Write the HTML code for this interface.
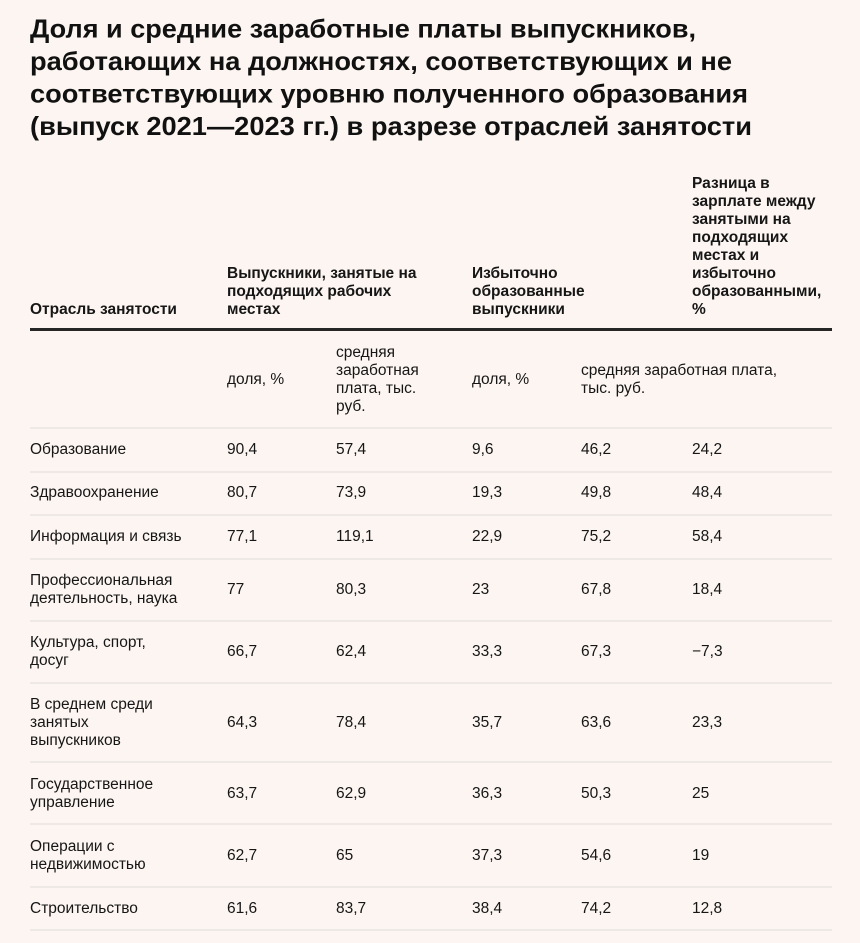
<!DOCTYPE html>
<html lang="ru">
<head>
<meta charset="utf-8">
<style>
  html, body { margin:0; padding:0; }
  body {
    width:860px; height:943px; background:#fcf5f1; position:relative; overflow:hidden;
    font-family:"Liberation Sans", Arial, "Noto Sans CJK SC", sans-serif; color:#161616;
  }
  .title { position:absolute; left:0; top:0; }
  .h { position:absolute; font-weight:bold; font-size:15.5px; line-height:18px; white-space:nowrap; color:#161616; }
  .s { position:absolute; font-size:15.5px; line-height:18px; white-space:nowrap; }
  .thick { position:absolute; left:30px; width:802px; top:328px; height:2.5px; background:#262626; }
  .thin { position:absolute; left:30px; width:802px; height:2px; background:#efe9e6; }
  .r { position:absolute; font-size:15.5px; line-height:18px; white-space:nowrap; transform:translateY(-50%); }
</style>
</head>
<body>

<svg class="title" width="860" height="160" xmlns="http://www.w3.org/2000/svg">
  <g font-family="Liberation Sans, Arial, sans-serif" font-weight="bold" font-size="26" fill="#111">
    <text x="30" y="37.5" textLength="666" lengthAdjust="spacingAndGlyphs">Доля и средние заработные платы выпускников,</text>
    <text x="30" y="70" textLength="702" lengthAdjust="spacingAndGlyphs">работающих на должностях, соответствующих и не</text>
    <text x="30" y="102.5" textLength="718" lengthAdjust="spacingAndGlyphs">соответствующих уровню полученного образования</text>
    <text x="30" y="135" textLength="722" lengthAdjust="spacingAndGlyphs">(выпуск 2021—2023 гг.) в разрезе отраслей занятости</text>
  </g>
</svg>

<!-- Header row -->
<div class="h" style="left:30px; top:301px;">Отрасль занятости</div>
<div class="h" style="left:227px; top:265px;">Выпускники, занятые на<br>подходящих рабочих<br>местах</div>
<div class="h" style="left:472px; top:265px;">Избыточно<br>образованные<br>выпускники</div>
<div class="h" style="left:692px; top:175px;">Разница в<br>зарплате между<br>занятыми на<br>подходящих<br>местах и<br>избыточно<br>образованными,<br>%</div>

<div class="thick"></div>

<!-- Sub header -->
<div class="s" style="left:227px; top:371px;">доля, %</div>
<div class="s" style="left:336px; top:344px;">средняя<br>заработная<br>плата, тыс.<br>руб.</div>
<div class="s" style="left:472px; top:371px;">доля, %</div>
<div class="s" style="left:581px; top:362px;">средняя заработная плата,<br>тыс. руб.</div>

<div class="thin" style="top:427px;"></div>

<!-- Row 1 -->
<div class="r" style="left:30px; top:449.7px;">Образование</div>
<div class="r" style="left:227px; top:449.7px;">90,4</div>
<div class="r" style="left:336px; top:449.7px;">57,4</div>
<div class="r" style="left:472px; top:449.7px;">9,6</div>
<div class="r" style="left:581px; top:449.7px;">46,2</div>
<div class="r" style="left:692px; top:449.7px;">24,2</div>
<div class="thin" style="top:470.5px;"></div>

<!-- Row 2 -->
<div class="r" style="left:30px; top:493.3px;">Здравоохранение</div>
<div class="r" style="left:227px; top:493.3px;">80,7</div>
<div class="r" style="left:336px; top:493.3px;">73,9</div>
<div class="r" style="left:472px; top:493.3px;">19,3</div>
<div class="r" style="left:581px; top:493.3px;">49,8</div>
<div class="r" style="left:692px; top:493.3px;">48,4</div>
<div class="thin" style="top:514px;"></div>

<!-- Row 3 -->
<div class="r" style="left:30px; top:537px;">Информация и связь</div>
<div class="r" style="left:227px; top:537px;">77,1</div>
<div class="r" style="left:336px; top:537px;">119,1</div>
<div class="r" style="left:472px; top:537px;">22,9</div>
<div class="r" style="left:581px; top:537px;">75,2</div>
<div class="r" style="left:692px; top:537px;">58,4</div>
<div class="thin" style="top:558px;"></div>

<!-- Row 4 -->
<div class="r" style="left:30px; top:590px;">Профессиональная<br>деятельность, наука</div>
<div class="r" style="left:227px; top:590px;">77</div>
<div class="r" style="left:336px; top:590px;">80,3</div>
<div class="r" style="left:472px; top:590px;">23</div>
<div class="r" style="left:581px; top:590px;">67,8</div>
<div class="r" style="left:692px; top:590px;">18,4</div>
<div class="thin" style="top:620px;"></div>

<!-- Row 5 -->
<div class="r" style="left:30px; top:652px;">Культура, спорт,<br>досуг</div>
<div class="r" style="left:227px; top:652px;">66,7</div>
<div class="r" style="left:336px; top:652px;">62,4</div>
<div class="r" style="left:472px; top:652px;">33,3</div>
<div class="r" style="left:581px; top:652px;">67,3</div>
<div class="r" style="left:692px; top:652px;">−7,3</div>
<div class="thin" style="top:682px;"></div>

<!-- Row 6 -->
<div class="r" style="left:30px; top:723px;">В среднем среди<br>занятых<br>выпускников</div>
<div class="r" style="left:227px; top:723px;">64,3</div>
<div class="r" style="left:336px; top:723px;">78,4</div>
<div class="r" style="left:472px; top:723px;">35,7</div>
<div class="r" style="left:581px; top:723px;">63,6</div>
<div class="r" style="left:692px; top:723px;">23,3</div>
<div class="thin" style="top:761px;"></div>

<!-- Row 7 -->
<div class="r" style="left:30px; top:793.5px;">Государственное<br>управление</div>
<div class="r" style="left:227px; top:793.5px;">63,7</div>
<div class="r" style="left:336px; top:793.5px;">62,9</div>
<div class="r" style="left:472px; top:793.5px;">36,3</div>
<div class="r" style="left:581px; top:793.5px;">50,3</div>
<div class="r" style="left:692px; top:793.5px;">25</div>
<div class="thin" style="top:823px;"></div>

<!-- Row 8 -->
<div class="r" style="left:30px; top:855.5px;">Операции с<br>недвижимостью</div>
<div class="r" style="left:227px; top:855.5px;">62,7</div>
<div class="r" style="left:336px; top:855.5px;">65</div>
<div class="r" style="left:472px; top:855.5px;">37,3</div>
<div class="r" style="left:581px; top:855.5px;">54,6</div>
<div class="r" style="left:692px; top:855.5px;">19</div>
<div class="thin" style="top:886px;"></div>

<!-- Row 9 -->
<div class="r" style="left:30px; top:908.5px;">Строительство</div>
<div class="r" style="left:227px; top:908.5px;">61,6</div>
<div class="r" style="left:336px; top:908.5px;">83,7</div>
<div class="r" style="left:472px; top:908.5px;">38,4</div>
<div class="r" style="left:581px; top:908.5px;">74,2</div>
<div class="r" style="left:692px; top:908.5px;">12,8</div>
<div class="thin" style="top:929px;"></div>

</body>
</html>
